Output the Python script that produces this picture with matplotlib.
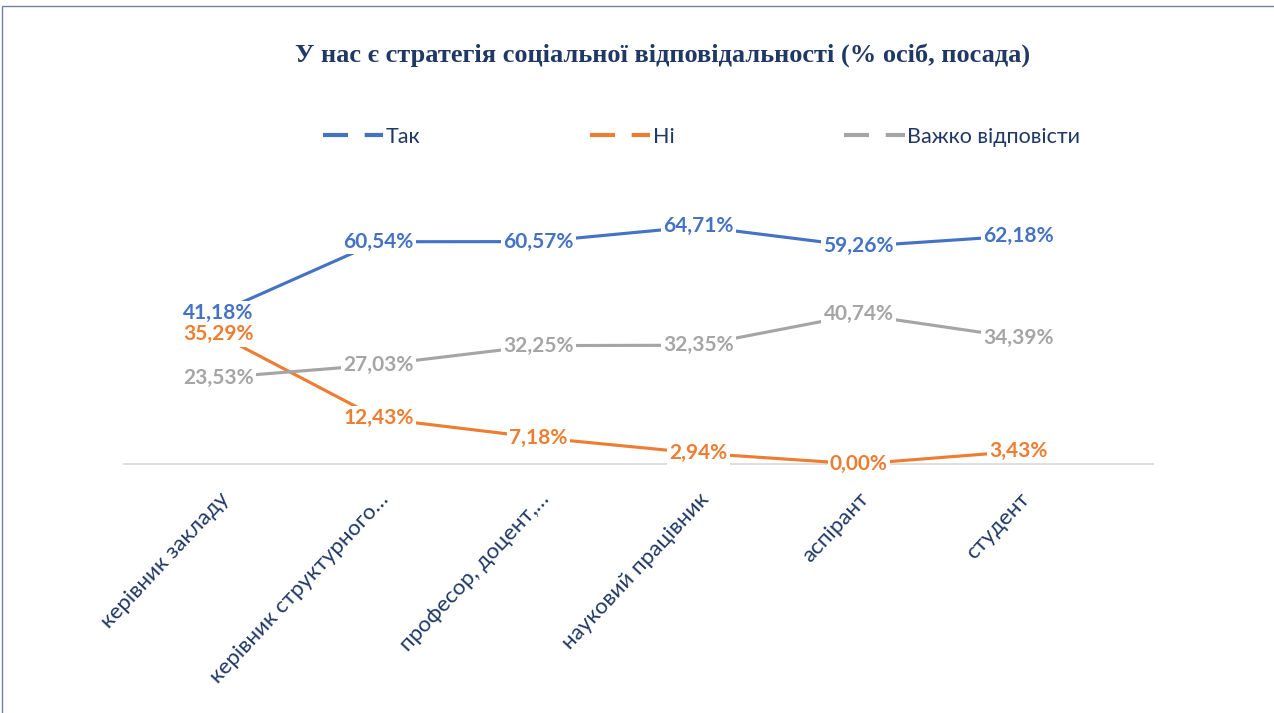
import matplotlib.pyplot as plt
from matplotlib.lines import Line2D
from matplotlib.patches import Rectangle

# Categories (positions) and series values, %
categories = ['керівник закладу', 'керівник структурного…', 'професор, доцент,…',
              'науковий працівник', 'аспірант', 'студент']
tak = [41.18, 60.54, 60.57, 64.71, 59.26, 62.18]
ni = [35.29, 12.43, 7.18, 2.94, 0.00, 3.43]
vazhko = [23.53, 27.03, 32.25, 32.35, 40.74, 34.39]

series_names = ['Так', 'Ні', 'Важко відповісти']
colors = ['#4472C4', '#ED7D31', '#A5A5A5']
navy = '#1F3864'

fig = plt.figure(figsize=(12.74, 7.13), dpi=100)
ax = fig.add_axes([124 / 1274, 1 - 464 / 713, (1153 - 124) / 1274, 257 / 713])

x = list(range(len(categories)))
for vals, c in zip([tak, ni, vazhko], colors):
    ax.plot(x, vals, color=c, lw=2.25, solid_capstyle='butt', zorder=2)
    for xi, v in zip(x, vals):
        ax.text(xi, v, f'{v:.2f}%'.replace('.', ','), ha='center', va='center',
                color=c, fontsize=15, fontweight='bold', family='Lato',
                bbox=dict(boxstyle='square,pad=0.1', fc='white', ec='none'),
                zorder=5)

ax.set_xlim(-0.59, 5.84)
ax.set_ylim(0, 70)
for s in ['top', 'right', 'left']:
    ax.spines[s].set_visible(False)
ax.spines['bottom'].set_color('#D9D9D9')
ax.spines['bottom'].set_linewidth(1.2)
ax.spines['bottom'].set_zorder(1)
ax.set_yticks([])
ax.set_xticks(x)
ax.set_xticklabels(categories, rotation=47, ha='right', va='top',
                   rotation_mode='anchor', color=navy, fontsize=16, family='Lato')
ax.tick_params(axis='x', length=0, pad=18)

# Title
fig.text(0.52, 1 - 55 / 713, 'У нас є стратегія соціальної відповідальності (% осіб, посада)',
         ha='center', va='center', fontsize=19, fontweight='bold',
         family='Liberation Serif', color=navy)

# Legend
handles = [Line2D([0], [0], color=c, lw=3, dashes=(6, 4)) for c in colors]
fig.legend(handles, series_names, loc='center', bbox_to_anchor=(0.5506, 1 - 137 / 713),
           ncol=3, frameon=False, handlelength=2.8, handletextpad=0.1,
           columnspacing=7.9, prop={'family': 'Lato', 'size': 15.5},
           labelcolor=navy)

# Chart border
fig.patches.append(Rectangle((2 / 1274, -0.1), 1.2, 1 - 6 / 713 + 0.1,
                             transform=fig.transFigure, fill=False,
                             ec='#6F82A3', lw=1.0))

plt.savefig('out.png', dpi=100)
